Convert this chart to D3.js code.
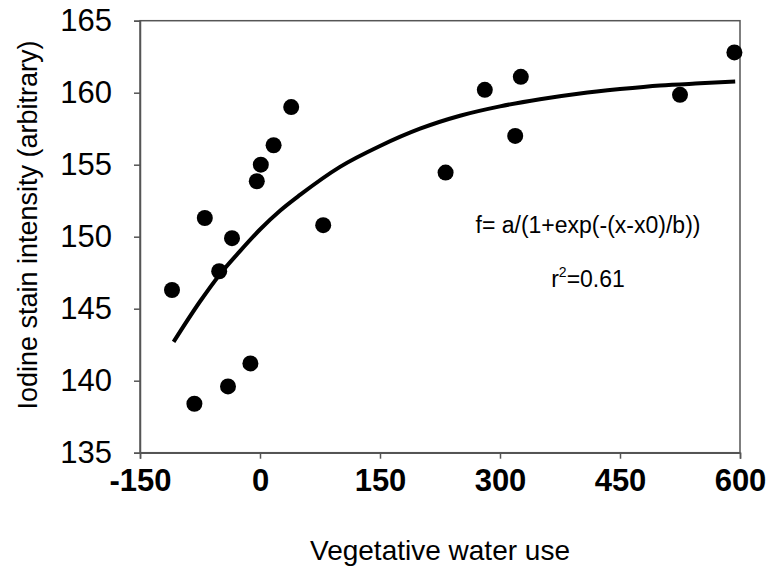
<!DOCTYPE html>
<html>
<head>
<meta charset="utf-8">
<script src="https://cdn.jsdelivr.net/npm/d3@7"></script>
<style>
  body { margin: 0; background: #fff; }
  text { font-family: "Liberation Sans", Arial, sans-serif; }
</style>
</head>
<body>
<svg width="771" height="572"></svg>
<script>
var svg = d3.select("svg");

// measured points
var waterUse = [-110, -82, -69, -51, -40, -35, -12, -4, 1, 17, 39, 79, 232, 281, 319, 326, 525, 593];
var iodine = [146.3, 138.4, 151.3, 147.6, 139.6, 149.9, 141.2, 153.85, 155.0, 156.35, 159.0, 150.8, 154.45, 160.2, 157.0, 161.1, 159.85, 162.8];

// fitted curve
var curveX = [-108, -75, -50, -25, 0, 25, 50, 100, 150, 200, 250, 300, 350, 400, 450, 500, 550, 594];
var curveY = [142.7, 145.5, 147.4, 149.0, 150.5, 151.8, 152.9, 154.85, 156.3, 157.5, 158.4, 159.05, 159.55, 159.95, 160.25, 160.5, 160.65, 160.77];

var xTicks = [-150, 0, 150, 300, 450, 600];
var yTicks = [135, 140, 145, 150, 155, 160, 165];

var plotLeft = 140, plotRight = 740, plotTop = 20.7, plotBottom = 452.7;

var x = d3.scaleLinear().domain([-150, 600]).range([plotLeft, plotRight]);
var y = d3.scaleLinear().domain([135, 165]).range([plotBottom, plotTop]);

var axisColor = "#555";

// frame
svg.append("rect")
  .attr("x", plotLeft).attr("y", plotTop)
  .attr("width", plotRight - plotLeft).attr("height", plotBottom - plotTop)
  .attr("fill", "none").attr("stroke", axisColor).attr("stroke-width", 1.5);

var xAxis = svg.append("g")
  .attr("transform", "translate(0," + plotBottom + ")")
  .call(d3.axisBottom(x).tickValues(xTicks).tickSize(6).tickPadding(10)
    .tickFormat(function(d) { return String(d); }));
xAxis.select(".domain").attr("stroke", axisColor).attr("stroke-width", 1.5);
xAxis.selectAll(".tick line").attr("stroke", axisColor).attr("stroke-width", 1.5);
xAxis.selectAll(".tick text")
  .attr("font-size", 31).attr("font-weight", "bold").attr("fill", "#000")
  .attr("font-family", "Liberation Sans, Arial, sans-serif");

var yAxis = svg.append("g")
  .attr("transform", "translate(" + plotLeft + ",0)")
  .call(d3.axisLeft(y).tickValues(yTicks).tickSize(6).tickPadding(22)
    .tickFormat(function(d) { return String(d); }));
yAxis.select(".domain").attr("stroke", axisColor).attr("stroke-width", 1.5);
yAxis.selectAll(".tick line").attr("stroke", axisColor).attr("stroke-width", 1.5);
yAxis.selectAll(".tick text")
  .attr("font-size", 31).attr("fill", "#000")
  .attr("font-family", "Liberation Sans, Arial, sans-serif");

// fitted curve
var fitData = curveX.map(function(d, i) { return [d, curveY[i]]; });
var line = d3.line()
  .x(function(d) { return x(d[0]); })
  .y(function(d) { return y(d[1]); })
  .curve(d3.curveMonotoneX);

svg.append("path")
  .datum(fitData)
  .attr("d", line)
  .attr("fill", "none")
  .attr("stroke", "#000")
  .attr("stroke-width", 4);

// points
var pts = waterUse.map(function(d, i) { return {wx: d, io: iodine[i]}; });
svg.selectAll(".dot")
  .data(pts)
  .enter().append("circle")
  .attr("class", "dot")
  .attr("cx", function(d) { return x(d.wx); })
  .attr("cy", function(d) { return y(d.io); })
  .attr("r", 8)
  .attr("fill", "#000");

// annotation
svg.append("text")
  .attr("x", 588).attr("y", 233)
  .attr("text-anchor", "middle")
  .attr("font-size", 23)
  .text("f= a/(1+exp(-(x-x0)/b))");

var r2 = svg.append("text")
  .attr("x", 588).attr("y", 287)
  .attr("text-anchor", "middle")
  .attr("font-size", 23);
r2.append("tspan").text("r");
r2.append("tspan").attr("font-size", 14).attr("dy", -10).text("2");
r2.append("tspan").attr("dy", 10).text("=0.61");

// axis titles
svg.append("text")
  .attr("x", 440).attr("y", 560)
  .attr("text-anchor", "middle")
  .attr("font-size", 28)
  .text("Vegetative water use");

svg.append("text")
  .attr("transform", "translate(37,225) rotate(-90)")
  .attr("text-anchor", "middle")
  .attr("font-size", 27)
  .text("Iodine stain intensity (arbitrary)");
</script>
</body>
</html>
